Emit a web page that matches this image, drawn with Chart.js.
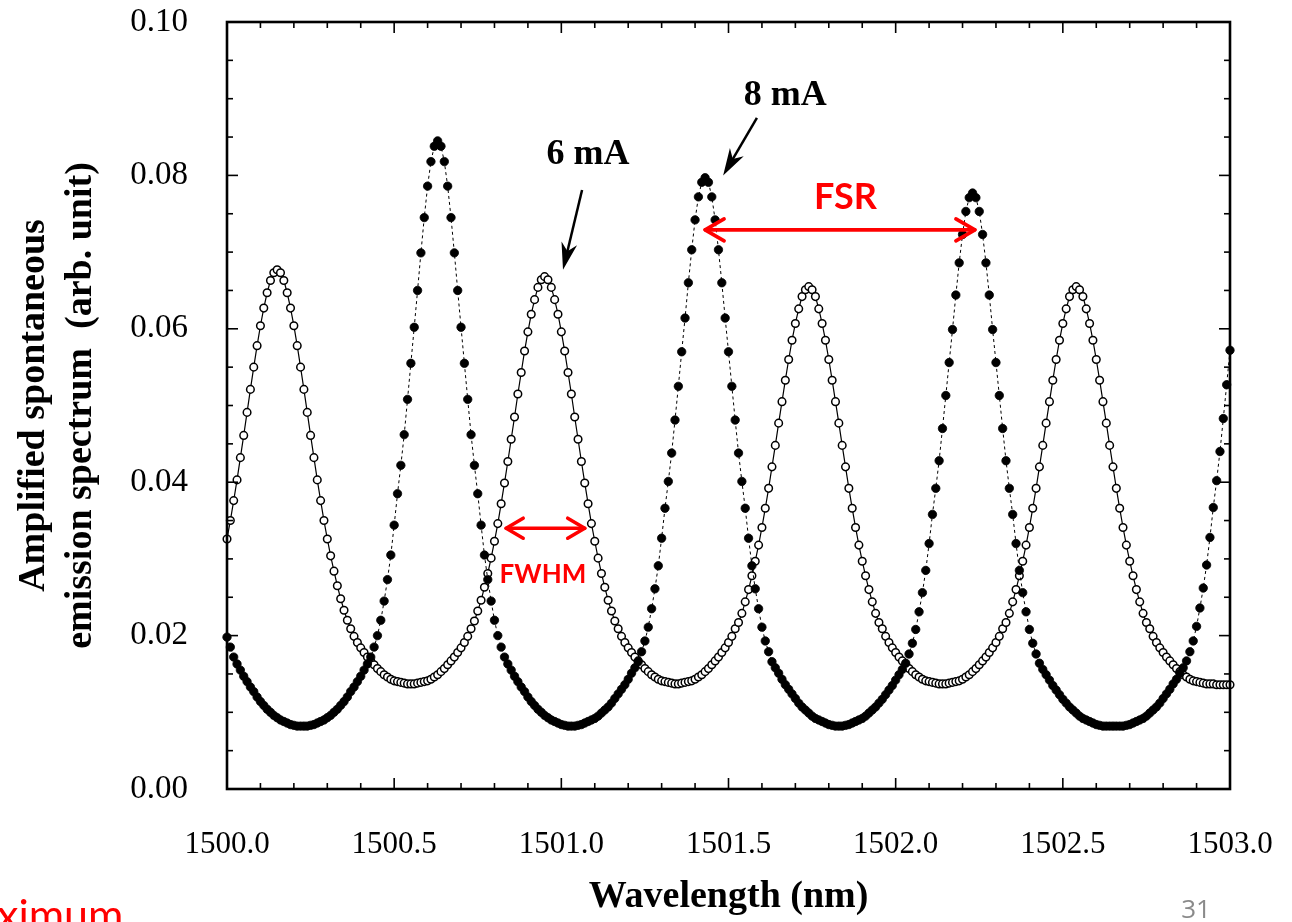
<!DOCTYPE html>
<html>
<head>
<meta charset="utf-8">
<title>Amplified spontaneous emission spectrum</title>
<script src="https://cdn.jsdelivr.net/npm/chart.js@4.4.1/dist/chart.umd.min.js"></script>
<style>
  html, body { margin: 0; padding: 0; background: #fff; }
  canvas { display: block; }
</style>
</head>
<body>
<canvas id="grafico" width="1292" height="922"></canvas>
<script>
// longitud de onda (nm), un punto cada 0.01 nm
var longitudes = [
  1500.00,1500.01,1500.02,1500.03,1500.04,1500.05,1500.06,1500.07,1500.08,1500.09,
  1500.10,1500.11,1500.12,1500.13,1500.14,1500.15,1500.16,1500.17,1500.18,1500.19,
  1500.20,1500.21,1500.22,1500.23,1500.24,1500.25,1500.26,1500.27,1500.28,1500.29,
  1500.30,1500.31,1500.32,1500.33,1500.34,1500.35,1500.36,1500.37,1500.38,1500.39,
  1500.40,1500.41,1500.42,1500.43,1500.44,1500.45,1500.46,1500.47,1500.48,1500.49,
  1500.50,1500.51,1500.52,1500.53,1500.54,1500.55,1500.56,1500.57,1500.58,1500.59,
  1500.60,1500.61,1500.62,1500.63,1500.64,1500.65,1500.66,1500.67,1500.68,1500.69,
  1500.70,1500.71,1500.72,1500.73,1500.74,1500.75,1500.76,1500.77,1500.78,1500.79,
  1500.80,1500.81,1500.82,1500.83,1500.84,1500.85,1500.86,1500.87,1500.88,1500.89,
  1500.90,1500.91,1500.92,1500.93,1500.94,1500.95,1500.96,1500.97,1500.98,1500.99,
  1501.00,1501.01,1501.02,1501.03,1501.04,1501.05,1501.06,1501.07,1501.08,1501.09,
  1501.10,1501.11,1501.12,1501.13,1501.14,1501.15,1501.16,1501.17,1501.18,1501.19,
  1501.20,1501.21,1501.22,1501.23,1501.24,1501.25,1501.26,1501.27,1501.28,1501.29,
  1501.30,1501.31,1501.32,1501.33,1501.34,1501.35,1501.36,1501.37,1501.38,1501.39,
  1501.40,1501.41,1501.42,1501.43,1501.44,1501.45,1501.46,1501.47,1501.48,1501.49,
  1501.50,1501.51,1501.52,1501.53,1501.54,1501.55,1501.56,1501.57,1501.58,1501.59,
  1501.60,1501.61,1501.62,1501.63,1501.64,1501.65,1501.66,1501.67,1501.68,1501.69,
  1501.70,1501.71,1501.72,1501.73,1501.74,1501.75,1501.76,1501.77,1501.78,1501.79,
  1501.80,1501.81,1501.82,1501.83,1501.84,1501.85,1501.86,1501.87,1501.88,1501.89,
  1501.90,1501.91,1501.92,1501.93,1501.94,1501.95,1501.96,1501.97,1501.98,1501.99,
  1502.00,1502.01,1502.02,1502.03,1502.04,1502.05,1502.06,1502.07,1502.08,1502.09,
  1502.10,1502.11,1502.12,1502.13,1502.14,1502.15,1502.16,1502.17,1502.18,1502.19,
  1502.20,1502.21,1502.22,1502.23,1502.24,1502.25,1502.26,1502.27,1502.28,1502.29,
  1502.30,1502.31,1502.32,1502.33,1502.34,1502.35,1502.36,1502.37,1502.38,1502.39,
  1502.40,1502.41,1502.42,1502.43,1502.44,1502.45,1502.46,1502.47,1502.48,1502.49,
  1502.50,1502.51,1502.52,1502.53,1502.54,1502.55,1502.56,1502.57,1502.58,1502.59,
  1502.60,1502.61,1502.62,1502.63,1502.64,1502.65,1502.66,1502.67,1502.68,1502.69,
  1502.70,1502.71,1502.72,1502.73,1502.74,1502.75,1502.76,1502.77,1502.78,1502.79,
  1502.80,1502.81,1502.82,1502.83,1502.84,1502.85,1502.86,1502.87,1502.88,1502.89,
  1502.90,1502.91,1502.92,1502.93,1502.94,1502.95,1502.96,1502.97,1502.98,1502.99,
  1503.00
];

// 6 mA (circulos abiertos, linea continua)
var serie6mA = [
  0.0326,0.0350,0.0376,0.0403,0.0432,0.0461,0.0491,0.0521,0.0550,0.0578,
  0.0604,0.0627,0.0647,0.0663,0.0673,0.0677,0.0673,0.0663,0.0647,0.0627,
  0.0604,0.0578,0.0550,0.0521,0.0491,0.0461,0.0432,0.0403,0.0376,0.0350,
  0.0326,0.0304,0.0284,0.0265,0.0248,0.0233,0.0220,0.0209,0.0199,0.0191,
  0.0184,0.0178,0.0172,0.0167,0.0162,0.0157,0.0153,0.0149,0.0146,0.0143,
  0.0141,0.0140,0.0139,0.0138,0.0137,0.0137,0.0137,0.0138,0.0139,0.0140,
  0.0141,0.0143,0.0146,0.0149,0.0153,0.0157,0.0162,0.0167,0.0172,0.0178,
  0.0184,0.0191,0.0199,0.0209,0.0219,0.0232,0.0246,0.0263,0.0281,0.0301,
  0.0323,0.0346,0.0372,0.0399,0.0427,0.0456,0.0485,0.0515,0.0543,0.0571,
  0.0596,0.0619,0.0638,0.0654,0.0664,0.0668,0.0664,0.0654,0.0638,0.0619,
  0.0596,0.0571,0.0543,0.0515,0.0485,0.0456,0.0427,0.0399,0.0372,0.0346,
  0.0323,0.0301,0.0281,0.0263,0.0246,0.0232,0.0219,0.0209,0.0199,0.0191,
  0.0184,0.0178,0.0172,0.0167,0.0162,0.0157,0.0153,0.0149,0.0146,0.0143,
  0.0141,0.0140,0.0139,0.0138,0.0137,0.0137,0.0138,0.0139,0.0140,0.0141,
  0.0143,0.0146,0.0149,0.0153,0.0157,0.0162,0.0167,0.0172,0.0178,0.0184,
  0.0191,0.0199,0.0209,0.0217,0.0229,0.0244,0.0260,0.0278,0.0297,0.0318,
  0.0341,0.0366,0.0392,0.0420,0.0448,0.0477,0.0505,0.0533,0.0560,0.0585,
  0.0607,0.0626,0.0642,0.0651,0.0655,0.0651,0.0642,0.0626,0.0607,0.0585,
  0.0560,0.0533,0.0505,0.0477,0.0448,0.0420,0.0392,0.0366,0.0341,0.0318,
  0.0297,0.0278,0.0260,0.0244,0.0229,0.0217,0.0209,0.0199,0.0191,0.0184,
  0.0178,0.0172,0.0167,0.0162,0.0157,0.0153,0.0149,0.0146,0.0143,0.0141,
  0.0140,0.0139,0.0138,0.0137,0.0137,0.0137,0.0138,0.0139,0.0140,0.0141,
  0.0143,0.0146,0.0149,0.0153,0.0157,0.0162,0.0167,0.0172,0.0178,0.0184,
  0.0191,0.0199,0.0209,0.0217,0.0229,0.0244,0.0260,0.0278,0.0297,0.0318,
  0.0341,0.0366,0.0392,0.0420,0.0448,0.0477,0.0505,0.0533,0.0560,0.0585,
  0.0607,0.0626,0.0642,0.0651,0.0655,0.0651,0.0642,0.0626,0.0607,0.0585,
  0.0560,0.0533,0.0505,0.0477,0.0448,0.0420,0.0392,0.0366,0.0341,0.0318,
  0.0297,0.0278,0.0260,0.0244,0.0229,0.0217,0.0209,0.0199,0.0191,0.0184,
  0.0178,0.0172,0.0167,0.0162,0.0157,0.0153,0.0149,0.0146,0.0143,0.0141,
  0.0140,0.0139,0.0138,0.0137,0.0137,0.0137,0.0136,0.0136,0.0136,0.0136,
  0.0136
];

// 8 mA (circulos llenos, linea punteada)
var serie8mA = [
  0.0198,0.0185,0.0172,0.0163,0.0155,0.0147,0.0140,0.0133,0.0127,0.0120,
  0.0114,0.0109,0.0104,0.0100,0.0096,0.0093,0.0090,0.0088,0.0086,0.0084,
  0.0083,0.0082,0.0082,0.0082,0.0082,0.0083,0.0084,0.0086,0.0088,0.0090,
  0.0093,0.0096,0.0100,0.0104,0.0109,0.0114,0.0120,0.0127,0.0133,0.0140,
  0.0147,0.0155,0.0163,0.0172,0.0185,0.0200,0.0220,0.0245,0.0273,0.0305,
  0.0344,0.0385,0.0422,0.0462,0.0508,0.0555,0.0602,0.0650,0.0699,0.0745,
  0.0786,0.0818,0.0838,0.0845,0.0838,0.0818,0.0786,0.0745,0.0699,0.0650,
  0.0602,0.0555,0.0508,0.0462,0.0422,0.0385,0.0344,0.0305,0.0273,0.0245,
  0.0220,0.0200,0.0185,0.0172,0.0163,0.0155,0.0147,0.0140,0.0133,0.0127,
  0.0120,0.0114,0.0109,0.0104,0.0100,0.0096,0.0093,0.0090,0.0088,0.0086,
  0.0084,0.0083,0.0082,0.0082,0.0082,0.0083,0.0084,0.0086,0.0088,0.0090,
  0.0092,0.0095,0.0099,0.0103,0.0107,0.0112,0.0118,0.0124,0.0130,0.0136,
  0.0143,0.0151,0.0158,0.0166,0.0179,0.0193,0.0211,0.0235,0.0261,0.0291,
  0.0327,0.0366,0.0401,0.0438,0.0481,0.0525,0.0570,0.0614,0.0660,0.0703,
  0.0742,0.0772,0.0791,0.0797,0.0791,0.0772,0.0742,0.0703,0.0660,0.0614,
  0.0570,0.0525,0.0481,0.0438,0.0401,0.0366,0.0327,0.0291,0.0261,0.0235,
  0.0211,0.0193,0.0179,0.0166,0.0158,0.0151,0.0143,0.0136,0.0130,0.0124,
  0.0118,0.0112,0.0107,0.0103,0.0099,0.0095,0.0092,0.0090,0.0088,0.0086,
  0.0084,0.0083,0.0082,0.0082,0.0082,0.0083,0.0084,0.0086,0.0088,0.0090,
  0.0092,0.0095,0.0099,0.0103,0.0107,0.0112,0.0117,0.0123,0.0129,0.0135,
  0.0142,0.0149,0.0156,0.0164,0.0176,0.0190,0.0208,0.0231,0.0256,0.0285,
  0.0320,0.0358,0.0392,0.0428,0.0470,0.0513,0.0556,0.0599,0.0644,0.0686,
  0.0723,0.0753,0.0771,0.0777,0.0771,0.0753,0.0723,0.0686,0.0644,0.0599,
  0.0556,0.0513,0.0470,0.0428,0.0392,0.0358,0.0320,0.0285,0.0256,0.0231,
  0.0208,0.0190,0.0176,0.0164,0.0156,0.0149,0.0142,0.0135,0.0129,0.0123,
  0.0117,0.0112,0.0107,0.0103,0.0099,0.0095,0.0092,0.0090,0.0088,0.0086,
  0.0084,0.0083,0.0082,0.0082,0.0082,0.0082,0.0082,0.0082,0.0082,0.0083,
  0.0084,0.0086,0.0088,0.0090,0.0092,0.0095,0.0099,0.0103,0.0107,0.0112,
  0.0118,0.0124,0.0130,0.0137,0.0143,0.0151,0.0158,0.0167,0.0179,0.0193,
  0.0212,0.0236,0.0262,0.0292,0.0328,0.0367,0.0402,0.0440,0.0483,0.0527,
  0.0572
];

// etiquetas de los ejes
var ticksX = [1500.0, 1500.5, 1501.0, 1501.5, 1502.0, 1502.5, 1503.0];
var ticksY = [0.00, 0.02, 0.04, 0.06, 0.08, 0.10];

// anotaciones (en unidades de los datos)
var flechaFSR = { desde: 1501.43, hasta: 1502.237, y: 0.0729 };
var flechaFWHM = { desde: 1500.835, hasta: 1501.07, y: 0.0340 };

function puntos(valores) {
  return longitudes.map(function (x, i) { return { x: x, y: valores[i] }; });
}

function linea(ctx, x0, y0, x1, y1) {
  ctx.beginPath();
  ctx.moveTo(x0, y0);
  ctx.lineTo(x1, y1);
  ctx.stroke();
}

// punta de flecha negra (rellena) en (x1, y1)
function flechaNegra(ctx, x0, y0, x1, y1) {
  var ang = Math.atan2(y1 - y0, x1 - x0);
  ctx.lineWidth = 2.5;
  linea(ctx, x0, y0, x1 - 10 * Math.cos(ang), y1 - 10 * Math.sin(ang));
  ctx.save();
  ctx.translate(x1, y1);
  ctx.rotate(ang);
  ctx.beginPath();
  ctx.moveTo(0, 0);
  ctx.lineTo(-27, -8);
  ctx.lineTo(-19, 0);
  ctx.lineTo(-27, 8);
  ctx.closePath();
  ctx.fill();
  ctx.restore();
}

// chevron rojo abierto en (x, y) apuntando en la direccion dir (+1 derecha, -1 izquierda)
function chevron(ctx, x, y, dir, largo, abre) {
  ctx.beginPath();
  ctx.moveTo(x - dir * largo, y - abre);
  ctx.lineTo(x, y);
  ctx.lineTo(x - dir * largo, y + abre);
  ctx.stroke();
}

var marcoYTicks = {
  id: 'marcoYTicks',
  afterDatasetsDraw: function (chart) {
    var ctx = chart.ctx, a = chart.chartArea;
    var sx = chart.scales.x, sy = chart.scales.y;
    ctx.save();
    ctx.strokeStyle = '#000';
    ctx.lineWidth = 1.6;
    // ticks hacia adentro en los cuatro lados
    for (var k = 0; k <= 30; k++) {
      var px = sx.getPixelForValue(1500 + k * 0.1);
      var lx = (k % 5 === 0) ? 11 : 6;
      linea(ctx, px, a.bottom, px, a.bottom - lx);
      linea(ctx, px, a.top, px, a.top + lx);
    }
    for (var j = 0; j <= 20; j++) {
      var py = sy.getPixelForValue(j * 0.005);
      var ly = (j % 4 === 0) ? 11 : 6;
      linea(ctx, a.left, py, a.left + ly, py);
      linea(ctx, a.right, py, a.right - ly, py);
    }
    ctx.lineWidth = 2.6;
    ctx.strokeRect(a.left, a.top, a.right - a.left, a.bottom - a.top);
    ctx.restore();
  }
};

var notas = {
  id: 'notas',
  afterDraw: function (chart) {
    var ctx = chart.ctx;
    var sx = chart.scales.x, sy = chart.scales.y;
    function X(v) { return sx.getPixelForValue(v); }
    function Y(v) { return sy.getPixelForValue(v); }
    ctx.save();

    // etiquetas de corriente
    ctx.fillStyle = '#000';
    ctx.strokeStyle = '#000';
    ctx.font = 'bold 36px "Liberation Serif"';
    ctx.textAlign = 'center';
    ctx.textBaseline = 'middle';
    ctx.fillText('6 mA', X(1501.08), Y(0.0827));
    ctx.fillText('8 mA', X(1501.67), Y(0.0904));
    flechaNegra(ctx, X(1501.062), Y(0.0781), X(1501.005), Y(0.0677));
    flechaNegra(ctx, X(1501.585), Y(0.0875), X(1501.484), Y(0.0800));

    // FSR
    ctx.strokeStyle = '#ff0000';
    ctx.fillStyle = '#ff0000';
    ctx.lineWidth = 3.6;
    ctx.lineCap = 'round';
    ctx.lineJoin = 'round';
    var fy = Y(flechaFSR.y);
    linea(ctx, X(flechaFSR.desde), fy, X(flechaFSR.hasta), fy);
    chevron(ctx, X(flechaFSR.desde), fy, -1, 19, 11);
    chevron(ctx, X(flechaFSR.hasta), fy, 1, 19, 11);
    ctx.font = 'bold 36px Lato';
    ctx.fillText('FSR', X(1501.85), Y(0.0771));

    // FWHM
    var wy = Y(flechaFWHM.y);
    linea(ctx, X(flechaFWHM.desde), wy, X(flechaFWHM.hasta), wy);
    chevron(ctx, X(flechaFWHM.desde), wy, -1, 17, 10);
    chevron(ctx, X(flechaFWHM.hasta), wy, 1, 17, 10);
    ctx.font = 'bold 26px Lato';
    ctx.fillText('FWHM', X(1500.945), Y(0.0280));

    // texto de la diapositiva
    ctx.textAlign = 'left';
    ctx.textBaseline = 'alphabetic';
    ctx.font = '43px Lato';
    ctx.fillText('ximum', -3, 930);
    ctx.fillStyle = '#8a8a8a';
    ctx.textAlign = 'center';
    ctx.font = '26px "Open Sans"';
    ctx.fillText('31', 1196, 918);
    ctx.restore();
  }
};

var fondoBlanco = {
  id: 'fondoBlanco',
  beforeDraw: function (chart) {
    var ctx = chart.ctx;
    ctx.save();
    ctx.fillStyle = '#fff';
    ctx.fillRect(0, 0, chart.width, chart.height);
    ctx.restore();
  }
};

var ctx = document.getElementById('grafico');
window.miGrafico = new Chart(ctx, {
  type: 'line',
  data: {
    datasets: [{
      label: '8 mA',
      data: puntos(serie8mA),
      borderColor: '#000',
      borderWidth: 1,
      borderDash: [3, 3],
      pointRadius: 4.2,
      pointBackgroundColor: '#000',
      pointBorderColor: '#000',
      pointBorderWidth: 0.8,
      clip: 6
    }, {
      label: '6 mA',
      data: puntos(serie6mA),
      borderColor: '#000',
      borderWidth: 1.2,
      pointRadius: 3.8,
      pointBackgroundColor: '#fff',
      pointBorderColor: '#000',
      pointBorderWidth: 1.5,
      clip: 6
    }]
  },
  options: {
    responsive: false,
    animation: false,
    events: [],
    layout: { padding: { left: 0, right: 62, top: 22, bottom: 0 } },
    elements: { line: { tension: 0 } },
    plugins: {
      legend: { display: false },
      tooltip: { enabled: false }
    },
    scales: {
      x: {
        type: 'linear',
        min: 1500,
        max: 1503,
        grid: { display: false },
        border: { display: false },
        afterBuildTicks: function (scale) {
          scale.ticks = ticksX.map(function (v) { return { value: v }; });
        },
        afterFit: function (scale) {
          scale.height = 133;
          scale.paddingLeft = 0;
          scale.paddingRight = 0;
        },
        ticks: {
          autoSkip: false,
          maxRotation: 0,
          padding: 29,
          color: '#000',
          font: { family: '"Liberation Serif"', size: 31 },
          callback: function (v) { return Number(v).toFixed(1); }
        },
        title: {
          display: true,
          text: 'Wavelength (nm)',
          color: '#000',
          font: { family: '"Liberation Serif"', size: 38, weight: 'bold' },
          padding: { top: 0, bottom: 2 }
        }
      },
      y: {
        type: 'linear',
        min: 0,
        max: 0.1,
        grid: { display: false },
        border: { display: false },
        afterBuildTicks: function (scale) {
          scale.ticks = ticksY.map(function (v) { return { value: v }; });
        },
        afterFit: function (scale) {
          scale.width = 227;
          scale.paddingTop = 0;
          scale.paddingBottom = 0;
        },
        ticks: {
          padding: 31,
          color: '#000',
          font: { family: '"Liberation Serif"', size: 33 },
          callback: function (v) { return Number(v).toFixed(2); }
        },
        title: {
          display: true,
          text: ['Amplified spontaneous', 'emission spectrum  (arb. unit)'],
          color: '#000',
          font: { family: '"Liberation Serif"', size: 38, weight: 'bold', lineHeight: 1.25 },
          padding: { top: 10, bottom: 0 }
        }
      }
    }
  },
  plugins: [fondoBlanco, marcoYTicks, notas]
});
</script>
</body>
</html>
